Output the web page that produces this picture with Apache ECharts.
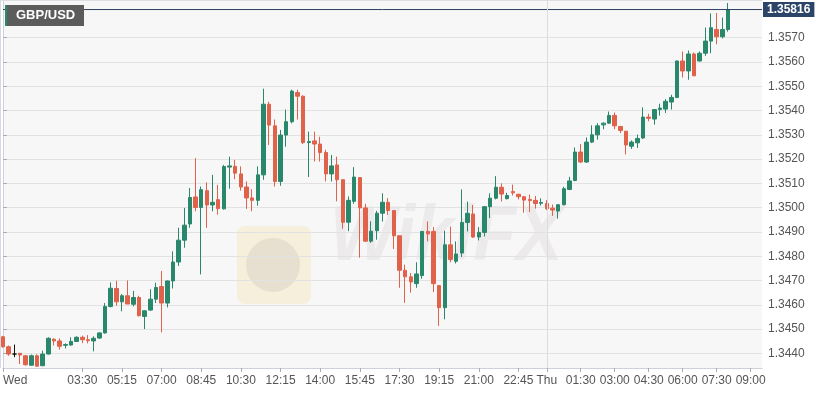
<!DOCTYPE html>
<html><head><meta charset="utf-8">
<script src="https://cdn.jsdelivr.net/npm/echarts@6/dist/echarts.min.js"></script>
<style>html,body{margin:0;padding:0;background:#fff}#c{width:832px;height:394px}</style>
</head><body><div id="c"></div>
<script>
const symbolName = 'GBP/USD';
const lastPrice = 1.35816;
const open = [1.34468,1.34427,1.34397,1.34400,1.34390,1.34351,1.34390,1.34349,1.34397,1.34458,
1.34451,1.34433,1.34434,1.34449,1.34466,1.34456,1.34451,1.34463,1.34484,1.34593,
1.34667,1.34612,1.34637,1.34602,1.34630,1.34552,1.34578,1.34623,1.34675,1.34607,
1.34698,1.34776,1.34866,1.34933,1.35044,1.35001,1.35070,1.35011,1.35033,1.34995,
1.35167,1.35170,1.35139,1.35085,1.35040,1.35030,1.35135,1.35426,1.35337,1.35108,
1.35299,1.35354,1.35474,1.35459,1.35268,1.35275,1.35262,1.35227,1.35139,1.35176,
1.35115,1.34940,1.35026,1.35124,1.34999,1.34862,1.34905,1.34977,1.35022,1.34988,
1.34884,1.34742,1.34715,1.34687,1.34720,1.34902,1.34902,1.34679,1.34588,1.34847,
1.34779,1.34813,1.34939,1.34974,1.34879,1.34898,1.35004,1.35039,1.35084,1.35037,
1.35066,1.35055,1.35045,1.35034,1.35030,1.35018,1.35017,1.34998,1.34986,1.35012,
1.35075,1.35112,1.35229,1.35188,1.35270,1.35300,1.35341,1.35348,1.35380,1.35334,
1.35315,1.35253,1.35267,1.35287,1.35373,1.35365,1.35404,1.35406,1.35435,1.35454,
1.35604,1.35563,1.35633,1.35604,1.35636,1.35686,1.35734,1.35704,1.35734];
const close = [1.34427,1.34397,1.34397,1.34393,1.34353,1.34390,1.34347,1.34397,1.34462,1.34451,
1.34429,1.34436,1.34449,1.34466,1.34456,1.34452,1.34462,1.34484,1.34593,1.34668,
1.34612,1.34637,1.34603,1.34630,1.34555,1.34575,1.34623,1.34671,1.34607,1.34698,
1.34776,1.34866,1.34928,1.35042,1.35001,1.35074,1.35011,1.35022,1.34996,1.35169,
1.35172,1.35142,1.35085,1.35040,1.35030,1.35135,1.35426,1.35340,1.35108,1.35299,
1.35354,1.35480,1.35459,1.35268,1.35272,1.35262,1.35227,1.35139,1.35172,1.35115,
1.34940,1.35030,1.35126,1.34999,1.34862,1.34903,1.34977,1.35022,1.34988,1.34884,
1.34742,1.34715,1.34694,1.34727,1.34902,1.34892,1.34687,1.34588,1.34847,1.34786,
1.34809,1.34939,1.34977,1.34879,1.34898,1.35004,1.35039,1.35084,1.35056,1.35050,
1.35061,1.35045,1.35031,1.35029,1.35017,1.35021,1.34996,1.34990,1.35012,1.35078,
1.35110,1.35229,1.35188,1.35270,1.35300,1.35337,1.35348,1.35380,1.35337,1.35318,
1.35258,1.35270,1.35285,1.35373,1.35368,1.35404,1.35410,1.35438,1.35454,1.35604,
1.35563,1.35633,1.35543,1.35636,1.35686,1.35741,1.35704,1.35734,1.35816];
const low = [1.34423,1.34390,1.34384,1.34356,1.34349,1.34349,1.34345,1.34347,1.34395,1.34432,
1.34415,1.34420,1.34432,1.34448,1.34442,1.34441,1.34408,1.34459,1.34481,1.34589,
1.34596,1.34573,1.34603,1.34593,1.34552,1.34500,1.34575,1.34607,1.34486,1.34589,
1.34667,1.34760,1.34835,1.34917,1.34985,1.34725,1.34917,1.34985,1.34971,1.34992,
1.35078,1.35117,1.35070,1.34995,1.34985,1.35008,1.35115,1.35258,1.35087,1.35090,
1.35251,1.35347,1.35363,1.35262,1.35126,1.35190,1.35190,1.35108,1.35108,1.35026,
1.34913,1.34903,1.35016,1.34794,1.34859,1.34855,1.34868,1.34943,1.34970,1.34830,
1.34670,1.34608,1.34650,1.34670,1.34707,1.34861,1.34652,1.34513,1.34540,1.34775,
1.34770,1.34797,1.34902,1.34875,1.34865,1.34881,1.34957,1.35034,1.35025,1.35034,
1.35050,1.35034,1.34979,1.34982,1.34996,1.35009,1.34990,1.34966,1.34955,1.35009,
1.35072,1.35109,1.35184,1.35184,1.35266,1.35280,1.35323,1.35345,1.35323,1.35307,
1.35219,1.35242,1.35246,1.35283,1.35356,1.35342,1.35379,1.35390,1.35404,1.35451,
1.35536,1.35527,1.35543,1.35602,1.35625,1.35636,1.35673,1.35697,1.35725];
const high = [1.34472,1.34432,1.34436,1.34400,1.34393,1.34395,1.34396,1.34411,1.34466,1.34462,
1.34462,1.34441,1.34466,1.34470,1.34473,1.34475,1.34470,1.34486,1.34607,1.34692,
1.34699,1.34644,1.34700,1.34657,1.34637,1.34577,1.34664,1.34691,1.34739,1.34700,
1.34820,1.34917,1.34999,1.35081,1.35204,1.35087,1.35104,1.35135,1.35094,1.35176,
1.35210,1.35197,1.35170,1.35108,1.35076,1.35170,1.35490,1.35436,1.35363,1.35320,
1.35404,1.35486,1.35486,1.35463,1.35313,1.35313,1.35292,1.35238,1.35217,1.35210,
1.35117,1.35046,1.35167,1.35126,1.35016,1.34944,1.34987,1.35059,1.35039,1.34990,
1.34886,1.34765,1.34731,1.34775,1.34904,1.34943,1.34920,1.34681,1.34905,1.34922,
1.34861,1.35075,1.35025,1.35011,1.34920,1.35006,1.35059,1.35130,1.35100,1.35061,
1.35095,1.35057,1.35048,1.35054,1.35048,1.35038,1.35031,1.35013,1.35013,1.35086,
1.35127,1.35248,1.35262,1.35289,1.35339,1.35348,1.35351,1.35396,1.35392,1.35337,
1.35315,1.35277,1.35301,1.35413,1.35387,1.35406,1.35428,1.35447,1.35465,1.35606,
1.35643,1.35647,1.35639,1.35643,1.35742,1.35800,1.35802,1.35783,1.35843];
const dojiIdx = [2];
const tickIdx = [0,14,21,28,35,42,49,56,63,70,77,84,91,96,102,108,114,120,126,132];
const tickLabels = ['Wed','03:30','05:15','07:00','08:45','10:30','12:15','14:00','15:45','17:30','19:15','21:00','22:45','Thu','01:30','03:00','04:30','06:00','07:30','09:00'];
const dayBreakIdx = 96;
const priceTicks = [1.3440,1.3450,1.3460,1.3470,1.3480,1.3490,1.3500,1.3510,1.3520,1.3530,1.3540,1.3550,1.3560,1.3570];

const UP = '#29876b', DOWN = '#e0624b', FONT = "'Liberation Sans', Arial, sans-serif";
const labelMap = {};
tickIdx.forEach((v, k) => { labelMap[v] = tickLabels[k]; });
const data = open.map((o, i) => {
  const v = [i, o, close[i], low[i], high[i]];
  if (dojiIdx.indexOf(i) >= 0) {
    return { value: v, itemStyle: { color: '#111', color0: '#111', borderColor: '#111', borderColor0: '#111', borderColorDoji: '#111' } };
  }
  return v;
});

const chart = echarts.init(document.getElementById('c'), null, { renderer: 'canvas' });
chart.setOption({
  animation: false,
  backgroundColor: '#ffffff',
  grid: { left: 0, right: 70, top: 0, bottom: 26, show: true, backgroundColor: '#f7f7f7', borderWidth: 0 },
  xAxis: {
    type: 'value', min: 0, max: 134,
    axisLine: { show: true, lineStyle: { color: '#cdd1da' } },
    axisTick: { show: true, length: 4, customValues: tickIdx, lineStyle: { color: '#aab' } },
    axisLabel: { customValues: tickIdx, formatter: v => labelMap[Math.round(v)] || '', color: '#555', fontSize: 12, fontFamily: FONT, margin: 7, alignMinLabel: 'left' },
    splitLine: { show: false }
  },
  yAxis: {
    type: 'value', position: 'right', min: 1.343395, max: 1.358553, scale: true,
    axisLine: { show: true, lineStyle: { color: '#cdd1da' } },
    axisTick: { show: true, length: 4, customValues: priceTicks, lineStyle: { color: '#aab' } },
    axisLabel: { customValues: priceTicks, formatter: v => v.toFixed(4), color: '#555', fontSize: 12, fontFamily: FONT, margin: 6 },
    splitLine: { show: true, lineStyle: { color: '#e2e2e2', width: 1 } }
  },
  series: [{
    type: 'candlestick',
    data: data,
    encode: { x: 0, y: [1, 2, 3, 4] },
    barWidth: 4,
    clip: true,
    z: 3,
    itemStyle: { color: UP, color0: DOWN, borderColor: UP, borderColor0: DOWN, borderWidth: 1 },
    markLine: {
      silent: true, symbol: 'none', animation: false,
      data: [
        { xAxis: dayBreakIdx, lineStyle: { color: '#dcdcdc', width: 1, type: 'solid' }, label: { show: false } }
      ]
    }
  }, {
    type: 'line',
    data: [[0, lastPrice], [134, lastPrice]],
    symbol: 'none',
    z: 4,
    lineStyle: { color: '#2c3f5e', width: 1 },
    silent: true,
    markPoint: {
      symbol: 'rect', symbolSize: 0,
      data: [{ coord: [134, lastPrice], label: { show: true, position: 'right', distance: 1, formatter: lastPrice.toFixed(5), color: '#fff', fontWeight: 'bold', fontSize: 12, fontFamily: FONT, backgroundColor: '#2c4468', padding: [2, 4, 1, 4] } }]
    }
  }],
  graphic: [
    { type: 'group', silent: true, z: 0, children: [
      { type: 'rect', shape: { x: 237, y: 226, width: 74, height: 78, r: 8 }, style: { fill: 'rgba(243,222,160,0.30)' } },
      { type: 'circle', shape: { cx: 273, cy: 265, r: 27 }, style: { fill: 'rgba(160,150,150,0.16)' } },
      { type: 'text', x: 330, y: 200, scaleY: 1.1, style: { text: 'WikiFX', font: "italic bold 70px 'Liberation Sans', Arial", fill: 'rgba(190,175,175,0.18)' } }
    ]},
    { type: 'line', shape: { x1: 0.5, y1: 0, x2: 0.5, y2: 368 }, style: { stroke: '#d8d8e4', lineWidth: 1 }, z: 10 },
    { type: 'line', shape: { x1: 0, y1: 0.5, x2: 762, y2: 0.5 }, style: { stroke: '#dddde4', lineWidth: 1 }, z: 10 },
    { type: 'rect', shape: { x: 5, y: 5, width: 79, height: 21 }, style: { fill: '#5c5c5c' }, z: 20 },
    { type: 'rect', shape: { x: 5, y: 5, width: 2, height: 21 }, style: { fill: UP }, z: 21 },
    { type: 'text', x: 16, y: 15.5, z: 22, style: { text: symbolName, fill: '#fff', font: "bold 13px 'Liberation Sans', Arial", textVerticalAlign: 'middle', verticalAlign: 'middle' } }
  ]
});
</script></body></html>
